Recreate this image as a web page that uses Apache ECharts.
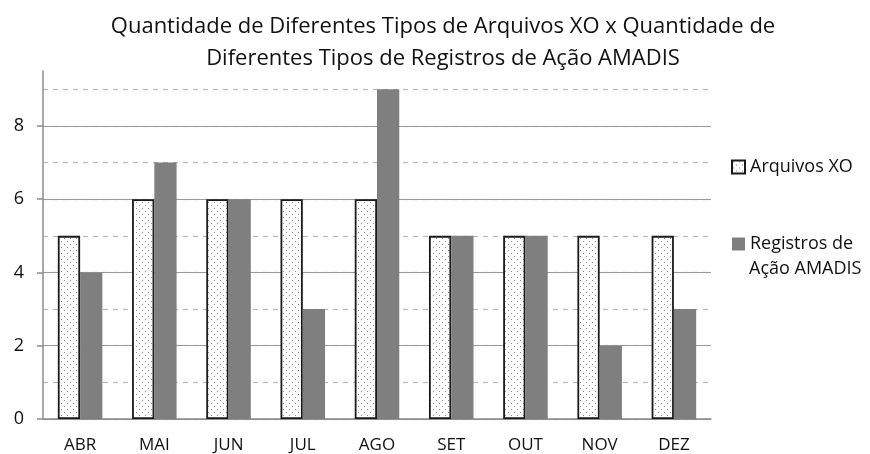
<!DOCTYPE html>
<html>
<head>
<meta charset="utf-8">
<script src="https://cdn.jsdelivr.net/npm/echarts@6/dist/echarts.min.js"></script>
<style>
  html, body { margin: 0; padding: 0; background: #fff; }
  #chart { width: 870px; height: 454px; }
</style>
</head>
<body>
<div id="chart"></div>
<script>
let meses = ['ABR', 'MAI', 'JUN', 'JUL', 'AGO', 'SET', 'OUT', 'NOV', 'DEZ'];
let arquivosXO = [5, 6, 6, 6, 6, 5, 5, 5, 5];
let registrosAmadis = [4, 7, 6, 3, 9, 5, 5, 2, 3];

// padrão pontilhado das barras "Arquivos XO"
function pontilhado() {
    let c = document.createElement('canvas');
    c.width = 6; c.height = 6;
    let ctx = c.getContext('2d');
    ctx.fillStyle = '#ffffff';
    ctx.fillRect(0, 0, 6, 6);
    ctx.fillStyle = '#8a8a8a';
    ctx.fillRect(1, 1, 1, 1);
    ctx.fillRect(4, 4, 1, 1);
    return c;
}

let fonte = '"Open Sans", "Noto Sans", sans-serif';
let myChart = echarts.init(document.getElementById('chart'));
let option = {
    animation: false,
    title: {
        text: 'Quantidade de Diferentes Tipos de Arquivos XO x Quantidade de\nDiferentes Tipos de Registros de Ação AMADIS',
        left: 438,
        top: 6,
        textAlign: 'center',
        textStyle: {
            fontFamily: fonte,
            fontSize: 22,
            fontWeight: 'normal',
            color: '#111',
            lineHeight: 32
        }
    },
    legend: {
        orient: 'vertical',
        left: 726,
        top: 153,
        icon: 'rect',
        itemWidth: 13,
        itemHeight: 13,
        itemGap: 59,
        textStyle: { fontFamily: fonte, fontSize: 18, color: '#111' }
    },
    graphic: [{
        type: 'text',
        left: 749,
        top: 260,
        style: { text: 'Ação AMADIS', font: '18px ' + fonte, fill: '#111' }
    }],
    grid: { left: 43, right: 159, top: 71, bottom: 35 },
    xAxis: {
        type: 'category',
        data: meses,
        axisLine: { lineStyle: { color: '#8c8c8c', width: 1.5 } },
        axisTick: { length: 6, lineStyle: { color: '#8c8c8c', width: 1.5 } },
        axisLabel: { fontFamily: fonte, fontSize: 17, color: '#111', margin: 18 }
    },
    yAxis: [
        {
            type: 'value',
            min: 0, max: 9.5, interval: 1,
            axisLine: { show: false },
            axisTick: { show: false },
            axisLabel: { show: false },
            splitLine: { showMaxLine: false, lineStyle: { color: '#b8b8b8', type: [5, 5], width: 1.2 } }
        },
        {
            type: 'value',
            position: 'left',
            min: 0, max: 9.5, interval: 2,
            axisLine: { show: true, lineStyle: { color: '#8c8c8c', width: 1.5 } },
            axisTick: { show: true, length: 6, lineStyle: { color: '#8c8c8c', width: 1.5 } },
            axisLabel: { showMaxLabel: false, fontFamily: fonte, fontSize: 18, color: '#111', margin: 19 },
            splitLine: { showMaxLine: false, lineStyle: { color: '#9a9a9a', width: 1.2 } }
        }
    ],
    series: [
        {
            name: 'Arquivos XO',
            type: 'bar',
            yAxisIndex: 1,
            data: arquivosXO,
            barGap: '0%',
            barCategoryGap: '40%',
            itemStyle: {
                color: { image: pontilhado(), repeat: 'repeat' },
                borderColor: '#1a1a1a',
                borderWidth: 1.8
            }
        },
        {
            name: 'Registros de',
            type: 'bar',
            yAxisIndex: 1,
            data: registrosAmadis,
            itemStyle: { color: '#7f7f7f' }
        }
    ]
};
myChart.setOption(option);
</script>
</body>
</html>
